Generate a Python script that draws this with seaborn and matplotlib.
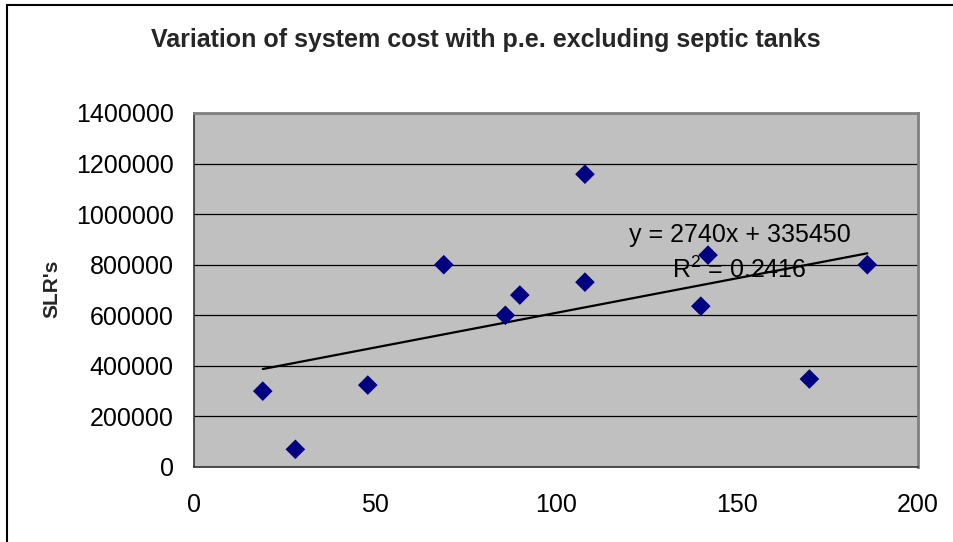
import numpy as np
import pandas as pd
import matplotlib
matplotlib.use("Agg")
import matplotlib.pyplot as plt
import seaborn as sns
from matplotlib.patches import Rectangle

# ---- data ----
pe = [19, 28, 48, 69, 86, 90, 108, 108, 140, 142, 170, 186]
cost = [300000, 70000, 324000, 800000, 600000, 680000, 1158000, 731000, 636000, 838000, 348000, 800000]
trend_slope = 2740
trend_intercept = 335450
eq_label = "y = 2740x + 335450"
r2_label = "R$^{2}$ = 0.2416"
title = "Variation of system cost with p.e. excluding septic tanks"
y_label = "SLR's"
x_ticks = [0, 50, 100, 150, 200]
y_ticks = [0, 200000, 400000, 600000, 800000, 1000000, 1200000, 1400000]

sns.set_theme(style="white")
plt.rcParams['font.family'] = ['Liberation Sans', 'DejaVu Sans']
plt.rcParams['mathtext.fontset'] = 'custom'
plt.rcParams['mathtext.rm'] = 'Liberation Sans'
plt.rcParams['mathtext.it'] = 'Liberation Sans'
plt.rcParams['mathtext.default'] = 'regular'

fig = plt.figure(figsize=(9.54, 5.42), dpi=100)
ax = fig.add_axes([194/954, 1-467/542, 724/954, 354/542])
ax.set_facecolor('#C0C0C0')

df = pd.DataFrame({"pe": pe, "cost": cost})
trend_x = [min(pe), max(pe)]
trend_df = pd.DataFrame({"x": trend_x, "y": [trend_slope * v + trend_intercept for v in trend_x]})

ax.set_axisbelow(True)
ax.yaxis.grid(True, color='black', linewidth=0.9)
ax.xaxis.grid(False)

sns.lineplot(data=trend_df, x="x", y="y", ax=ax, color='black', linewidth=1.6, zorder=3)
sns.scatterplot(data=df, x="pe", y="cost", ax=ax, marker='D', color='#000080',
                s=100, edgecolor='none', linewidth=0, zorder=4)

ax.set_xlim(0, 200)
ax.set_ylim(0, 1400000)
ax.set_xticks(x_ticks)
ax.set_yticks(y_ticks)
ax.set_xticklabels([str(t) for t in x_ticks])
ax.set_yticklabels([str(t) for t in y_ticks])
ax.tick_params(axis='both', which='both', direction='out', length=5.5, width=1,
               color='black', labelsize=18, labelcolor='black')
ax.tick_params(axis='x', pad=13)
ax.tick_params(axis='y', pad=9)
ax.set_xlabel("")
ax.set_ylabel("")
fig.text(52/954, 1-289/542, y_label, rotation=90, ha='center', va='center',
         fontsize=15, fontweight='bold')

for side in ['left', 'bottom']:
    ax.spines[side].set_color('#333333')
    ax.spines[side].set_linewidth(1.2)
for side in ['top', 'right']:
    ax.spines[side].set_color('#808080')
    ax.spines[side].set_linewidth(2)

ax.text(150.8, 917000, eq_label, ha='center', va='center', fontsize=18, color='black', zorder=5)
ax.text(150.5, 778000, r2_label, ha='center', va='center', fontsize=18, color='black', zorder=2)

fig.text(486/954, 1-40/542, title, ha='center', va='center', fontsize=18, fontweight='bold')

fig.patches.append(Rectangle((7/954, -0.1), 1.0, 1.1 - 5/542, transform=fig.transFigure,
                             fill=False, edgecolor='black', linewidth=1.5))

fig.savefig("out.png", dpi=100)
